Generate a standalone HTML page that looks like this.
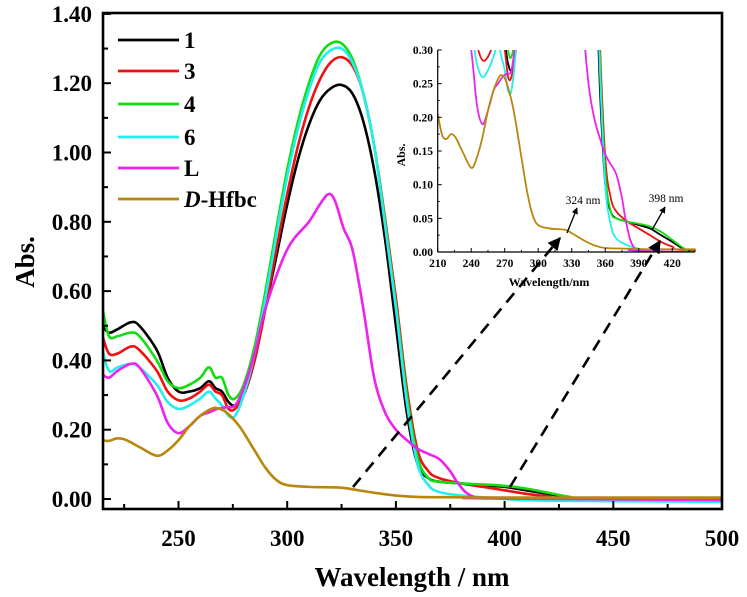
<!DOCTYPE html>
<html><head><meta charset="utf-8"><style>
html,body{margin:0;padding:0;background:#fff;}
svg{display:block;font-family:"Liberation Serif",serif;}
</style></head><body>
<svg id="chart" width="747" height="597" viewBox="0 0 747 597" xmlns="http://www.w3.org/2000/svg">
<defs>
<clipPath id="mainClip"><rect x="103" y="13" width="619" height="496"/></clipPath>
<clipPath id="insetClip"><rect x="437.7" y="50" width="258" height="202"/></clipPath>
</defs>
<g id="main"></g>
<g id="inset"></g>
<g id="overlay"></g>
</svg>
<script>
const seriesNames = ['1','3','4','6','L','D-Hfbc'];
const seriesColors = ['#000000','#ee1111','#11dd11','#22eeee','#ee22ee','#b8860b'];
const wl1 = [215,218,222,228,232,240,245,250,255,260,264,267,270,273,276,280,285,290,295,300,305,310,315,320,325,330,335,340,345,350,355,360,365,370,380,390,400,410,420,430,440,500];
const abs1 = [0.50,0.48,0.49,0.51,0.50,0.43,0.35,0.31,0.31,0.32,0.34,0.32,0.31,0.28,0.27,0.30,0.40,0.55,0.70,0.85,0.98,1.08,1.15,1.185,1.195,1.17,1.09,0.95,0.75,0.50,0.25,0.10,0.06,0.05,0.045,0.04,0.035,0.025,0.015,0.005,0.002,0.002];
const wl3 = [215,218,222,228,232,240,245,250,255,260,264,267,270,273,276,280,285,290,295,300,305,310,315,320,325,330,335,340,345,350,355,360,365,370,380,390,400,410,420,430,500];
const abs3 = [0.47,0.42,0.42,0.44,0.43,0.37,0.31,0.285,0.29,0.31,0.33,0.31,0.30,0.26,0.26,0.30,0.40,0.55,0.72,0.88,1.02,1.13,1.21,1.26,1.275,1.25,1.17,1.02,0.81,0.58,0.32,0.14,0.08,0.06,0.045,0.035,0.025,0.015,0.008,0.003,0.003];
const wl4 = [215,218,222,228,232,240,245,250,255,260,264,267,270,273,276,280,285,290,295,300,305,310,315,320,325,330,335,340,345,350,355,360,365,370,380,390,400,410,420,430,440,500];
const abs4 = [0.55,0.47,0.47,0.48,0.47,0.40,0.34,0.32,0.33,0.35,0.38,0.35,0.35,0.30,0.29,0.33,0.44,0.60,0.78,0.95,1.09,1.20,1.28,1.315,1.315,1.27,1.17,1.02,0.80,0.56,0.30,0.12,0.06,0.05,0.045,0.042,0.038,0.03,0.018,0.006,0.0,-0.004];
const wl6 = [215,218,222,228,232,240,245,250,255,260,264,267,270,273,276,280,285,290,295,300,305,310,315,320,325,330,335,340,345,350,355,360,365,370,380,390,400,420,500];
const abs6 = [0.43,0.37,0.38,0.39,0.38,0.33,0.28,0.26,0.27,0.29,0.31,0.29,0.27,0.24,0.24,0.30,0.42,0.58,0.76,0.93,1.07,1.18,1.26,1.295,1.30,1.26,1.17,1.02,0.79,0.55,0.28,0.10,0.04,0.02,0.01,0.005,0.0,-0.005,-0.008];
const wlL = [215,218,222,228,232,240,245,250,255,260,264,268,272,276,280,285,290,300,310,315,319,322,326,330,335,340,345,350,355,360,365,370,375,378,382,386,390,500];
const absL = [0.36,0.35,0.37,0.39,0.38,0.30,0.22,0.19,0.21,0.24,0.25,0.26,0.265,0.27,0.32,0.42,0.55,0.72,0.80,0.85,0.88,0.86,0.78,0.72,0.55,0.35,0.25,0.20,0.17,0.145,0.13,0.115,0.08,0.05,0.02,0.006,0.002,-0.003];
const wlD = [210,213,215,218,222,226,232,240,245,250,255,260,265,268,272,278,285,290,295,300,310,324,330,340,350,360,380,400,440,500];
const absD = [0.205,0.18,0.17,0.168,0.175,0.17,0.15,0.125,0.14,0.17,0.21,0.24,0.26,0.262,0.25,0.21,0.14,0.09,0.055,0.04,0.035,0.033,0.028,0.018,0.01,0.006,0.005,0.004,0.004,0.004];
const xTicks = [250,300,350,400,450,500];
const yTicks = [0,0.2,0.4,0.6,0.8,1.0,1.2,1.4];
const yTickLabels = ['0.00','0.20','0.40','0.60','0.80','1.00','1.20','1.40'];
const insetXTicks = [210,240,270,300,330,360,390,420];
const insetYTicks = [0,0.05,0.10,0.15,0.20,0.25,0.30];
const insetYTickLabels = ['0.00','0.05','0.10','0.15','0.20','0.25','0.30'];
const allWl = [wl1,wl3,wl4,wl6,wlL,wlD];
const allAbs = [abs1,abs3,abs4,abs6,absL,absD];

const NS='http://www.w3.org/2000/svg';
function mk(tag,attrs,parent){const e=document.createElementNS(NS,tag);for(const k in attrs)e.setAttribute(k,attrs[k]);parent.appendChild(e);return e;}
const X=v=>178.5+(v-250)*2.174;
const Y=v=>499-v*346.5;
const IX=v=>437.7+(v-210)*1.117;
const IY=v=>252-v*673.3;
function smooth(pts){let d='M'+pts[0][0].toFixed(2)+','+pts[0][1].toFixed(2);
 for(let i=0;i<pts.length-1;i++){const p0=pts[i-1]||pts[i],p1=pts[i],p2=pts[i+1],p3=pts[i+2]||p2;
  const c1=[p1[0]+(p2[0]-p0[0])/6,p1[1]+(p2[1]-p0[1])/6],c2=[p2[0]-(p3[0]-p1[0])/6,p2[1]-(p3[1]-p1[1])/6];
  d+='C'+c1[0].toFixed(2)+','+c1[1].toFixed(2)+' '+c2[0].toFixed(2)+','+c2[1].toFixed(2)+' '+p2[0].toFixed(2)+','+p2[1].toFixed(2);}
 return d;}

const main=document.getElementById('main');
const inset=document.getElementById('inset');
const ov=document.getElementById('overlay');

const mg=mk('g',{'clip-path':'url(#mainClip)'},main);
for(let s=0;s<6;s++){
 const p=mk('path',{d:smooth(allWl[s].map((w,i)=>[X(w),Y(allAbs[s][i])])),fill:'none',stroke:seriesColors[s],'stroke-width':2.6,'stroke-linejoin':'round'},mg);
 
 
}
const fr=mk('rect',{x:103,y:13,width:619,height:496,fill:'none',stroke:'#000','stroke-width':2.6},main);


for(let v=225;v<=500;v+=25){const major=(v%50===0);mk('line',{x1:X(v),x2:X(v),y1:509,y2:509-(major?8:5),stroke:'#000','stroke-width':2},main);}
xTicks.forEach(v=>{const t=mk('text',{x:X(v),y:546,'text-anchor':'middle','font-size':23,'font-weight':'bold'},main);t.textContent=v;
 
 });
for(let v=0;v<=1.4001;v+=0.1){const major=Math.round(v*10)%2===0;mk('line',{x1:103,x2:103+(major?8:5),y1:Y(v),y2:Y(v),stroke:'#000','stroke-width':2},main);}
yTicks.forEach((v,i)=>{const t=mk('text',{x:92,y:Y(v)+8,'text-anchor':'end','font-size':23,'font-weight':'bold'},main);t.textContent=yTickLabels[i];
 
 });
const yt=mk('text',{x:0,y:0,transform:'translate(34,262) rotate(-90)','text-anchor':'middle','font-size':27,'font-weight':'bold'},main);yt.textContent='Abs.';


const xt=mk('text',{x:412,y:586,'text-anchor':'middle','font-size':27,'font-weight':'bold'},main);xt.textContent='Wavelength / nm';


const lg=mk('g',{},main);


const legY=[40,71,104,137,168,199];
for(let s=0;s<6;s++){
 const e=mk('g',{},lg);
 
 
 mk('line',{x1:118,x2:179,y1:legY[s],y2:legY[s],stroke:seriesColors[s],'stroke-width':2.8},e);
 const t=mk('text',{x:184,y:legY[s]+8,'font-size':23,'font-weight':'bold'},e);
 if(s===5){const a=mk('tspan',{'font-style':'italic'},t);a.textContent='D';const b=mk('tspan',{},t);b.textContent='-Hfbc';}
 else t.textContent=seriesNames[s];
}

const ig=mk('g',{'clip-path':'url(#insetClip)'},inset);
for(let s=0;s<6;s++){
 const p=mk('path',{d:smooth(allWl[s].map((w,i)=>[IX(w),IY(allAbs[s][i])])),fill:'none',stroke:seriesColors[s],'stroke-width':1.8},ig);
 
 
}
mk('line',{x1:437.7,x2:437.7,y1:50,y2:252,stroke:'#000','stroke-width':1.2},inset);
mk('line',{x1:437.7,x2:695,y1:252,y2:252,stroke:'#000','stroke-width':1.2},inset);
for(let v=210;v<=440;v+=15){mk('line',{x1:IX(v),x2:IX(v),y1:252,y2:v%30===0?248:250,stroke:'#000','stroke-width':1},inset);}
insetXTicks.forEach(v=>{const t=mk('text',{x:IX(v),y:267,'text-anchor':'middle','font-size':11.5,'font-weight':'bold'},inset);t.textContent=v;
 
 });
for(let v=0;v<=0.3001;v+=0.025){mk('line',{x1:437.7,x2:437.7+(Math.round(v*1000)%50===0?4:2),y1:IY(v),y2:IY(v),stroke:'#000','stroke-width':1},inset);}
insetYTicks.forEach((v,i)=>{const t=mk('text',{x:433,y:IY(v)+4,'text-anchor':'end','font-size':11.5,'font-weight':'bold'},inset);t.textContent=insetYTickLabels[i];
 
 });
const iy=mk('text',{transform:'translate(405,155) rotate(-90)','text-anchor':'middle','font-size':12,'font-weight':'bold'},inset);iy.textContent='Abs.';


const ix=mk('text',{x:549,y:286,'text-anchor':'middle','font-size':12,'font-weight':'bold'},inset);ix.textContent='Wavelength/nm';



mk('defs',{},ov).innerHTML='<marker id="ah" viewBox="0 0 10 10" refX="9" refY="5" markerWidth="5" markerHeight="5" orient="auto"><path d="M0,0L10,5L0,10z" fill="#000"/></marker>';
mk('line',{x1:353,y1:487,x2:560,y2:238,stroke:'#000','stroke-width':2.6,'stroke-dasharray':'12,8','marker-end':'url(#ah)'},ov);
mk('line',{x1:510,y1:487,x2:660,y2:241,stroke:'#000','stroke-width':2.6,'stroke-dasharray':'12,8','marker-end':'url(#ah)'},ov);
mk('line',{x1:567,y1:233,x2:577,y2:208,stroke:'#000','stroke-width':1.3,'marker-end':'url(#ah)'},ov);
mk('line',{x1:652,y1:230,x2:665,y2:207,stroke:'#000','stroke-width':1.3,'marker-end':'url(#ah)'},ov);
const a1=mk('text',{x:583,y:204,'text-anchor':'middle','font-size':11.5},ov);a1.textContent='324 nm';


const a2=mk('text',{x:666,y:202,'text-anchor':'middle','font-size':11.5},ov);a2.textContent='398 nm';


</script>
</body></html>
